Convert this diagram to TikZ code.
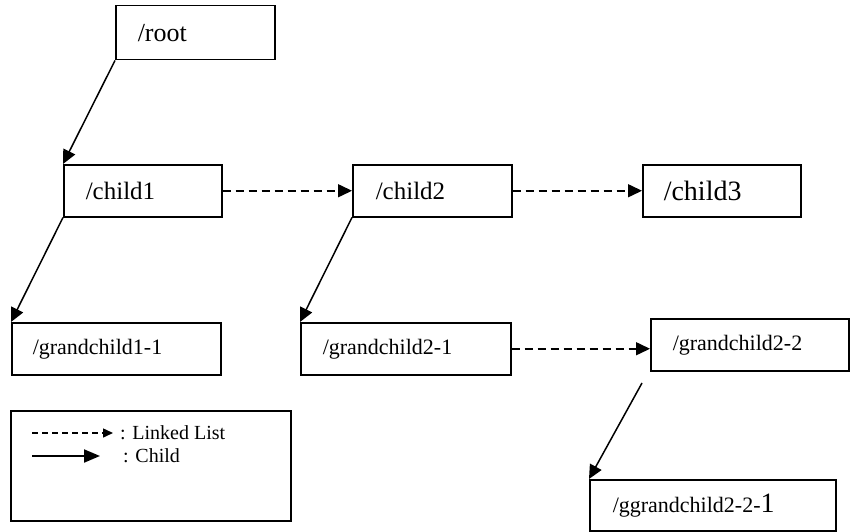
\documentclass[tikz,border=0pt]{standalone}
\usepackage{fontspec}
\setmainfont{Liberation Serif}
\usetikzlibrary{arrows.meta}
\begin{document}
\begin{tikzpicture}[x=1pt,y=-1pt,
  box/.style={draw, line width=1.5pt, anchor=north west, align=left,
    inner ysep=0pt, inner xsep=#1},
  childarrow/.style={line width=1.5pt, -{Triangle[length=14pt,width=13pt]}},
  linkarrow/.style={line width=1.5pt, dash pattern=on 8pt off 5pt,
    -{Triangle[length=14pt,width=13pt]}},
  fs/.style={font=\fontsize{#1}{#1}\selectfont}]
\useasboundingbox (0,0) rectangle (853,532);

% directory nodes
\node[box=22pt, minimum width=159pt, minimum height=54pt, text width=115pt, fs=26]
  (root) at (115,5) {/root};
\node[box=22pt, minimum width=158pt, minimum height=52pt, text width=114pt, fs=25]
  (child1) at (63,164) {/child1};
\node[box=23pt, minimum width=159pt, minimum height=52pt, text width=113pt, fs=25]
  (child2) at (352,164) {/child2};
\node[box=21pt, minimum width=158pt, minimum height=52pt, text width=116pt, fs=28]
  (child3) at (642,164) {/child3};
\node[box=21pt, minimum width=209pt, minimum height=52pt, text width=167pt, fs=22]
  (gc11) at (11,322) {/grandchild1-1};
\node[box=22pt, minimum width=210pt, minimum height=52pt, text width=166pt, fs=22]
  (gc21) at (300,322) {/grandchild2-1};
\node[box=22pt, minimum width=198pt, minimum height=52pt, text width=154pt, fs=22]
  (gc22) at (650,318) {/grandchild2-2};
\node[box=23pt, minimum width=246pt, minimum height=51pt, text width=200pt, fs=22]
  (ggc) at (589,479) {/ggrandchild2-2-{\fontsize{28}{28}\selectfont 1}};

% parent -> first child
\draw[childarrow] (root.south west) -- (child1.north west);
\draw[childarrow] (child1.south west) -- (gc11.north west);
\draw[childarrow] (child2.south west) -- (gc21.north west);
\coordinate (gstart) at (642,383);
\draw[childarrow] (gstart) -- (ggc.north west);

% sibling links
\draw[linkarrow] (child1.east) -- (child2.west);
\draw[linkarrow] (child2.east) -- (child3.west);
\draw[linkarrow] (gc21.east) -- (gc21.east -| gc22.west);

% legend
\node[draw, line width=1.5pt, anchor=north west, minimum width=280pt,
  minimum height=110pt] (legend) at (10,410) {};
\coordinate (l1a) at (32,433);
\coordinate (l1b) at (113,433);
\coordinate (l2a) at (32,456);
\coordinate (l2b) at (100,456);
\draw[line width=1.5pt, dash pattern=on 6pt off 4pt,
  -{Triangle[length=10pt,width=9pt]}] (l1a) -- (l1b);
\draw[line width=2pt, -{Triangle[length=16pt,width=13pt]}] (l2a) -- (l2b);
\node[anchor=west, inner sep=0pt, fs=20] (lt1) at (120,433) {: Linked List};
\node[anchor=west, inner sep=0pt, fs=20] (lt2) at (123,456) {: Child};
\end{tikzpicture}
\end{document}
